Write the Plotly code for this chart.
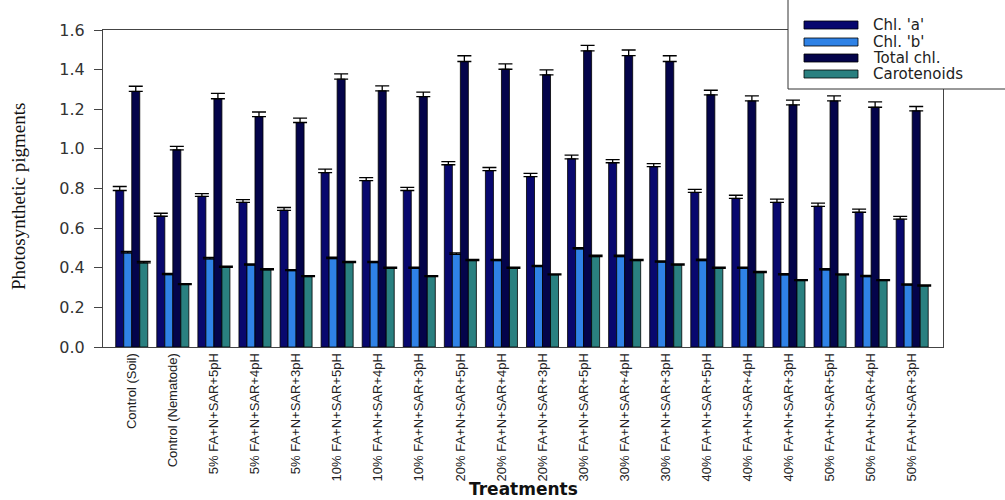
import plotly.graph_objects as go

categories = [
    "Control (Soil)", "Control (Nematode)",
    "5% FA+N+SAR+5pH", "5% FA+N+SAR+4pH", "5% FA+N+SAR+3pH",
    "10% FA+N+SAR+5pH", "10% FA+N+SAR+4pH", "10% FA+N+SAR+3pH",
    "20% FA+N+SAR+5pH", "20% FA+N+SAR+4pH", "20% FA+N+SAR+3pH",
    "30% FA+N+SAR+5pH", "30% FA+N+SAR+4pH", "30% FA+N+SAR+3pH",
    "40% FA+N+SAR+5pH", "40% FA+N+SAR+4pH", "40% FA+N+SAR+3pH",
    "50% FA+N+SAR+5pH", "50% FA+N+SAR+4pH", "50% FA+N+SAR+3pH",
]

series_names = ["Chl. 'a'", "Chl. 'b'", "Total chl.", "Carotenoids"]

chl_a = [0.79, 0.66, 0.76, 0.73, 0.69, 0.88, 0.84, 0.79, 0.92, 0.89,
         0.86, 0.95, 0.93, 0.91, 0.78, 0.75, 0.73, 0.71, 0.68, 0.645]
chl_b = [0.475, 0.365, 0.445, 0.414, 0.385, 0.446, 0.426, 0.397, 0.468, 0.436,
         0.406, 0.495, 0.456, 0.428, 0.436, 0.397, 0.364, 0.389, 0.355, 0.313]
total_chl = [1.29, 0.995, 1.253, 1.163, 1.133, 1.352, 1.293, 1.264, 1.441, 1.402,
             1.374, 1.495, 1.471, 1.441, 1.273, 1.242, 1.222, 1.242, 1.210, 1.192]
carotenoids = [0.425, 0.315, 0.402, 0.389, 0.355, 0.426, 0.397, 0.355, 0.436, 0.397,
               0.364, 0.456, 0.436, 0.414, 0.397, 0.375, 0.335, 0.364, 0.335, 0.308]

err_a = [0.02, 0.015, 0.014, 0.014, 0.014, 0.018, 0.015, 0.016, 0.016, 0.016,
         0.016, 0.018, 0.016, 0.016, 0.016, 0.016, 0.016, 0.016, 0.016, 0.014]
err_b = [0.008, 0.006, 0.007, 0.006, 0.006, 0.007, 0.006, 0.006, 0.007, 0.006,
         0.006, 0.007, 0.007, 0.006, 0.007, 0.006, 0.006, 0.006, 0.006, 0.005]
err_total = [0.026, 0.018, 0.027, 0.023, 0.022, 0.027, 0.025, 0.022, 0.029, 0.027,
             0.025, 0.027, 0.028, 0.029, 0.023, 0.026, 0.024, 0.026, 0.027, 0.022]
err_car = [0.007, 0.005, 0.006, 0.006, 0.005, 0.006, 0.006, 0.005, 0.006, 0.006,
           0.005, 0.007, 0.006, 0.006, 0.006, 0.006, 0.005, 0.005, 0.005, 0.005]

y_ticks = [0.0, 0.2, 0.4, 0.6, 0.8, 1.0, 1.2, 1.4, 1.6]

colors = ["#08086e", "#2f82e6", "#04044a", "#2a8080"]
values = [chl_a, chl_b, total_chl, carotenoids]
errors = [err_a, err_b, err_total, err_car]

W, H = 1005, 500
L, R, T, B = 103, 62, 30, 153
PW, PH = W - L - R, H - T - B


def px_x(p):
    return (p - L) / PW


def px_y(p):
    return (H - B - p) / PH


fig = go.Figure()
for name, vals, errs, col in zip(series_names, values, errors, colors):
    fig.add_trace(go.Bar(
        x=list(range(len(categories))), y=vals, name=name,
        marker=dict(color=col, line=dict(color="#000000", width=0.8)),
        error_y=dict(type="data", array=errs, arrayminus=[0] * len(errs),
                     symmetric=False, color="#000000", thickness=1.3, width=7),
        showlegend=False,
    ))

fig.update_layout(
    width=W, height=H,
    margin=dict(l=L, r=R, t=T, b=B, autoexpand=False),
    paper_bgcolor="white", plot_bgcolor="white",
    barmode="group", bargap=0.22, bargroupgap=0,
    font=dict(family="DejaVu Sans, Liberation Sans, Arial", color="#222222"),
    xaxis=dict(
        range=[-0.7, 19.75], tickmode="array",
        tickvals=list(range(len(categories))), ticktext=categories,
        tickangle=-90, showgrid=False, zeroline=False,
        showline=True, linecolor="#444444", linewidth=1, mirror=True,
        ticks="", automargin=False,
        tickfont=dict(family="Liberation Sans, Arial", size=13, color="#222222"),
    ),
    yaxis=dict(
        range=[0, 1.6], tickmode="array", tickvals=y_ticks,
        ticktext=[f"{v:.1f}" for v in y_ticks],
        showgrid=False, zeroline=False,
        showline=True, linecolor="#444444", linewidth=1, mirror=True,
        ticks="outside", ticklen=8, tickcolor="#444444", automargin=False,
        ticklabelstandoff=6,
        tickfont=dict(family="DejaVu Sans", size=16, color="#333333"),
    ),
)

# Axis titles
fig.add_annotation(
    x=px_x(18), y=px_y(197), xref="paper", yref="paper",
    xanchor="center", yanchor="middle",
    text="Photosynthetic pigments", textangle=-90, showarrow=False,
    font=dict(family="Liberation Serif, Times New Roman", size=19, color="#111111"),
)
fig.add_annotation(
    x=px_x(523), y=px_y(489), xref="paper", yref="paper",
    xanchor="center", yanchor="middle",
    text="<b>Treatments</b>", showarrow=False,
    font=dict(family="DejaVu Sans", size=17, color="#111111"),
)

# Legend (drawn manually to match the wide swatches)
fig.add_shape(type="rect", xref="paper", yref="paper",
              x0=px_x(788), x1=px_x(1012), y0=px_y(89), y1=px_y(-5),
              line=dict(color="#333333", width=1), fillcolor="white", layer="above")
rows = [25, 42, 58, 74]
for name, col, ry in zip(series_names, colors, rows):
    fig.add_shape(type="rect", xref="paper", yref="paper",
                  x0=px_x(804), x1=px_x(858), y0=px_y(ry + 4), y1=px_y(ry - 4),
                  line=dict(color="#000000", width=0.8), fillcolor=col, layer="above")
    fig.add_annotation(x=px_x(871), y=px_y(ry), xref="paper", yref="paper",
                       text=name, showarrow=False, xanchor="left", yanchor="middle",
                       font=dict(family="DejaVu Sans", size=15, color="#222222"))

fig.write_html(
    "out.html",
    config={"displayModeBar": False},
    post_script="document.body.style.margin='0';document.body.style.overflow='hidden';",
)
